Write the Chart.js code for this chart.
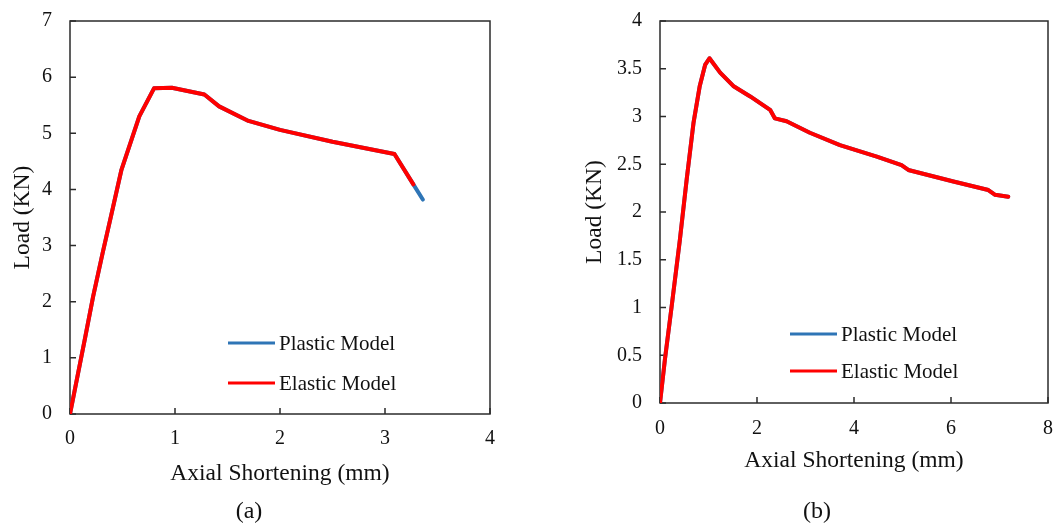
<!DOCTYPE html>
<html>
<head>
<meta charset="utf-8">
<script src="https://cdn.jsdelivr.net/npm/chart.js@4.4.1/dist/chart.umd.min.js"></script>
<style>
  html, body { margin: 0; padding: 0; background: #fff; }
  #wrap { position: relative; width: 1055px; height: 527px; overflow: hidden; background: #fff; }
  .panel { position: absolute; top: 0; height: 527px; }
</style>
</head>
<body>
<div id="wrap">
  <div class="panel" style="left:0;width:530px"><canvas id="chartA" width="530" height="527"></canvas></div>
  <div class="panel" style="left:530px;width:525px"><canvas id="chartB" width="525" height="527"></canvas></div>
</div>
<script>
// ---- Panel (a): load vs axial shortening ----
const shorteningA        = [0, 0.14, 0.22, 0.31, 0.39, 0.49, 0.66, 0.80, 0.97, 1.28, 1.42, 1.70, 2.00, 2.50, 3.09, 3.27];
const elasticLoadA       = [0, 1.32, 2.09, 2.86, 3.52, 4.35, 5.30, 5.80, 5.81, 5.69, 5.48, 5.22, 5.06, 4.85, 4.63, 4.09];
const shorteningPlasticA = [0, 0.14, 0.22, 0.31, 0.39, 0.49, 0.66, 0.80, 0.97, 1.28, 1.42, 1.70, 2.00, 2.50, 3.09, 3.27, 3.36];
const plasticLoadA       = [0, 1.32, 2.09, 2.86, 3.52, 4.35, 5.30, 5.80, 5.81, 5.69, 5.48, 5.22, 5.06, 4.85, 4.63, 4.09, 3.82];

// ---- Panel (b): load vs axial shortening ----
const shorteningB   = [0, 0.10, 0.24, 0.41, 0.55, 0.69, 0.82, 0.93, 1.02, 1.24, 1.51, 1.86, 2.27, 2.37, 2.61, 3.09, 3.71, 4.47, 4.98, 5.12, 6.05, 6.77, 6.91, 7.18];
const elasticLoadB  = [0, 0.45, 1.01, 1.71, 2.34, 2.93, 3.32, 3.54, 3.61, 3.46, 3.32, 3.21, 3.07, 2.98, 2.95, 2.83, 2.70, 2.58, 2.49, 2.44, 2.32, 2.23, 2.18, 2.16];
const plasticLoadB  = [0, 0.45, 1.01, 1.71, 2.34, 2.93, 3.32, 3.54, 3.61, 3.46, 3.32, 3.21, 3.07, 2.98, 2.95, 2.83, 2.70, 2.58, 2.49, 2.44, 2.32, 2.23, 2.18, 2.16];

const seriesNames = ['Plastic Model', 'Elastic Model'];
const xAxisTitle = 'Axial Shortening (mm)';
const yAxisTitle = 'Load (KN)';
const captions = ['(a)', '(b)'];

const SERIF = "'Liberation Serif', 'Times New Roman', serif";
const INK = '#111111';
const FRAME = '#2b2b2b';
const RED = '#ff0000';
const BLUE = '#2e75b6';

function toPoints(xs, ys) {
  return xs.map((x, i) => ({ x: x, y: ys[i] }));
}

// Frame, inward tick marks, in-plot legend and panel caption
function panelDecor(cfg) {
  return {
    id: 'panelDecor',
    beforeDatasetsDraw(chart) {
      const { ctx, chartArea: a, scales } = chart;
      ctx.save();
      ctx.strokeStyle = FRAME;
      ctx.lineWidth = 1.5;
      ctx.strokeRect(a.left, a.top, a.right - a.left, a.bottom - a.top);
      ctx.beginPath();
      scales.x.ticks.forEach(t => {
        const px = scales.x.getPixelForValue(t.value);
        ctx.moveTo(px, a.bottom);
        ctx.lineTo(px, a.bottom - 6);
      });
      scales.y.ticks.forEach(t => {
        const py = scales.y.getPixelForValue(t.value);
        ctx.moveTo(a.left, py);
        ctx.lineTo(a.left + 6, py);
      });
      ctx.stroke();
      ctx.restore();
    },
    afterDraw(chart) {
      const { ctx } = chart;
      ctx.save();
      // legend, Plastic first then Elastic
      const entries = [
        { name: seriesNames[0], color: BLUE, y: cfg.legend.y1 },
        { name: seriesNames[1], color: RED, y: cfg.legend.y2 }
      ];
      ctx.font = '21px ' + SERIF;
      ctx.textBaseline = 'middle';
      ctx.textAlign = 'left';
      entries.forEach(e => {
        ctx.strokeStyle = e.color;
        ctx.lineWidth = 3;
        ctx.beginPath();
        ctx.moveTo(cfg.legend.x0, e.y);
        ctx.lineTo(cfg.legend.x1, e.y);
        ctx.stroke();
        ctx.fillStyle = INK;
        ctx.fillText(e.name, cfg.legend.x1 + 4, e.y + 1);
      });
      // caption below the panel
      ctx.font = '24px ' + SERIF;
      ctx.textAlign = 'center';
      ctx.fillText(cfg.caption, cfg.captionX, 512);
      ctx.restore();
    }
  };
}

function buildPanel(canvas, cfg) {
  const lineStyle = {
    borderWidth: 4, pointRadius: 0, pointHoverRadius: 0, tension: 0, fill: false,
    borderJoinStyle: 'round', borderCapStyle: 'round'
  };
  return new Chart(canvas, {
    type: 'line',
    data: {
      datasets: [
        Object.assign({ label: seriesNames[1], data: toPoints(cfg.x, cfg.elastic), borderColor: RED, order: 0 }, lineStyle),
        Object.assign({ label: seriesNames[0], data: toPoints(cfg.xPlastic, cfg.plastic), borderColor: BLUE, order: 1 }, lineStyle)
      ]
    },
    options: {
      responsive: false,
      animation: false,
      events: [],
      layout: { padding: cfg.padding },
      plugins: { legend: { display: false }, tooltip: { enabled: false } },
      scales: {
        x: {
          type: 'linear', min: 0, max: cfg.xMax,
          afterFit: s => {
            s.height = cfg.xAxisHeight;
            s.paddingLeft = 0; s.paddingRight = 0;
          },
          grid: { display: false, drawTicks: false },
          border: { display: false },
          ticks: {
            stepSize: cfg.xStep, padding: cfg.xTickPad, autoSkip: false, maxRotation: 0,
            color: INK, font: { family: SERIF, size: 20 },
            callback: v => String(v)
          },
          title: {
            display: true, text: xAxisTitle, color: INK,
            font: { family: SERIF, size: 23.5 },
            padding: { top: 0, bottom: cfg.xTitlePad }
          }
        },
        y: {
          type: 'linear', min: 0, max: cfg.yMax,
          afterFit: s => {
            s.width = cfg.yAxisWidth;
            s.paddingTop = 0; s.paddingBottom = 0;
          },
          grid: { display: false, drawTicks: false },
          border: { display: false },
          ticks: {
            stepSize: cfg.yStep, padding: 18, autoSkip: false,
            color: INK, font: { family: SERIF, size: 20 },
            callback: v => String(v)
          },
          title: {
            display: true, text: yAxisTitle, color: INK,
            font: { family: SERIF, size: 23.5 },
            padding: { top: cfg.yTitlePad, bottom: 0 }
          }
        }
      }
    },
    plugins: [panelDecor(cfg)]
  });
}

buildPanel(document.getElementById('chartA'), {
  x: shorteningA, elastic: elasticLoadA,
  xPlastic: shorteningPlasticA, plastic: plasticLoadA,
  xMax: 4, xStep: 1, yMax: 7, yStep: 1,
  padding: { left: 0, top: 21, right: 40, bottom: 0 },
  yAxisWidth: 70, xAxisHeight: 113,
  xTickPad: 13, xTitlePad: 39, yTitlePad: 9,
  legend: { x0: 228, x1: 275, y1: 343, y2: 383 },
  caption: captions[0], captionX: 249
});

buildPanel(document.getElementById('chartB'), {
  x: shorteningB, elastic: elasticLoadB,
  xPlastic: shorteningB, plastic: plasticLoadB,
  xMax: 8, xStep: 2, yMax: 4, yStep: 0.5,
  padding: { left: 0, top: 21, right: 7, bottom: 0 },
  yAxisWidth: 130, xAxisHeight: 124,
  xTickPad: 14, xTitlePad: 52, yTitlePad: 51,
  legend: { x0: 260, x1: 307, y1: 334, y2: 371 },
  caption: captions[1], captionX: 287
});
</script>
</body>
</html>
